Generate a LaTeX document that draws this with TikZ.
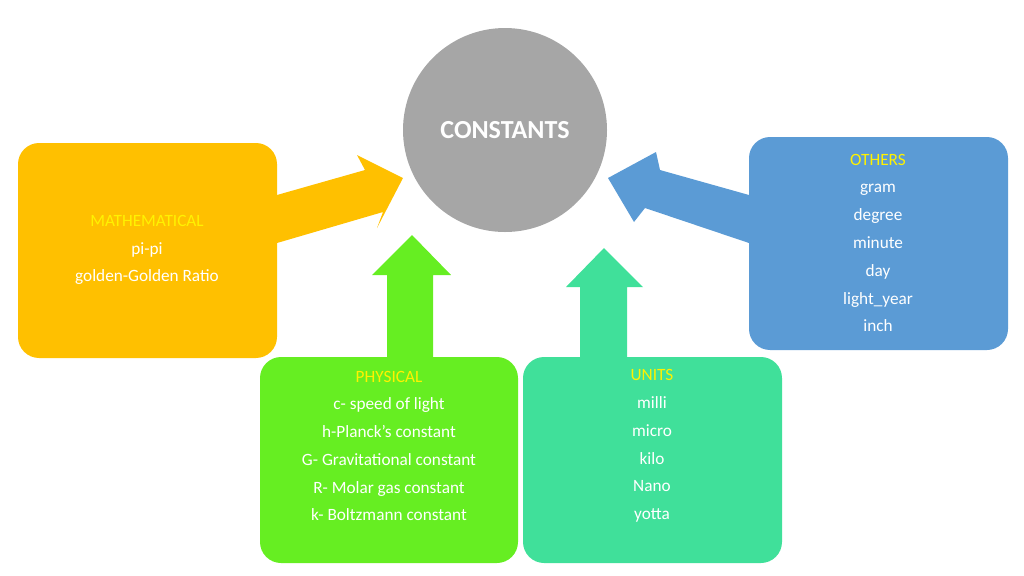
\documentclass[tikz,border=0pt]{standalone}
\usepackage{fontspec}
\setmainfont{Carlito}
\begin{document}
\begin{tikzpicture}[x=0.01cm,y=-0.01cm,
 box/.style={rounded corners=6pt},
 txt/.style={text=white,font=\fontsize{4.9pt}{7.9pt}\selectfont,align=center},
 hd/.style={text=yellow}]
\useasboundingbox (0,0) rectangle (1024,575);
\definecolor{cyel}{HTML}{FFC000}
\definecolor{cgrn}{HTML}{66EE22}
\definecolor{cteal}{HTML}{40E09A}
\definecolor{cblue}{HTML}{5B9BD5}
\definecolor{cgray}{HTML}{A6A6A6}
% arrows
\fill[cyel] (277,243) -- (277,195) -- (365,170) -- (357,155) -- (403,178) -- (377,228) -- (383,212) -- cycle;
\fill[cgrn] (387,357) -- (387,275) -- (372,275) -- (412,235) -- (451,275) -- (433,275) -- (433,357) -- cycle;
\fill[cteal] (580,357) -- (580,287) -- (566,287) -- (604,248) -- (643,287) -- (627,287) -- (627,357) -- cycle;
\fill[cblue] (749,195) -- (660,170) -- (656,152) -- (608,178) -- (634,222) -- (645,208) -- (749,243) -- cycle;
% circle
\fill[cgray] (505,130) circle (102);
\node[text=white,font=\fontsize{7.4pt}{9pt}\selectfont\bfseries] (c) at (505,130) {CONSTANTS};
% boxes
\fill[cyel,box] (18,143) rectangle (277,358);
\fill[cgrn,box] (260,357) rectangle (518,563);
\fill[cteal,box] (523,357) rectangle (782,563);
\fill[cblue,box] (749,137) rectangle (1008,350);
\node[txt] (m) at (147,250) {{\color{yellow}MATHEMATICAL}\\pi-pi\\golden-Golden Ratio};
\node[txt] (p) at (389,446) {{\color{yellow}PHYSICAL}\\c- speed of light\\h-Planck’s constant\\G- Gravitational constant\\R- Molar gas constant\\k- Boltzmann constant};
\node[txt] (u) at (652,446) {{\color{yellow}UNITS}\\milli\\micro\\kilo\\Nano\\yotta};
\node[txt] (o) at (878,243) {{\color{yellow}OTHERS}\\gram\\degree\\minute\\day\\light\_year\\inch};
\end{tikzpicture}
\end{document}
